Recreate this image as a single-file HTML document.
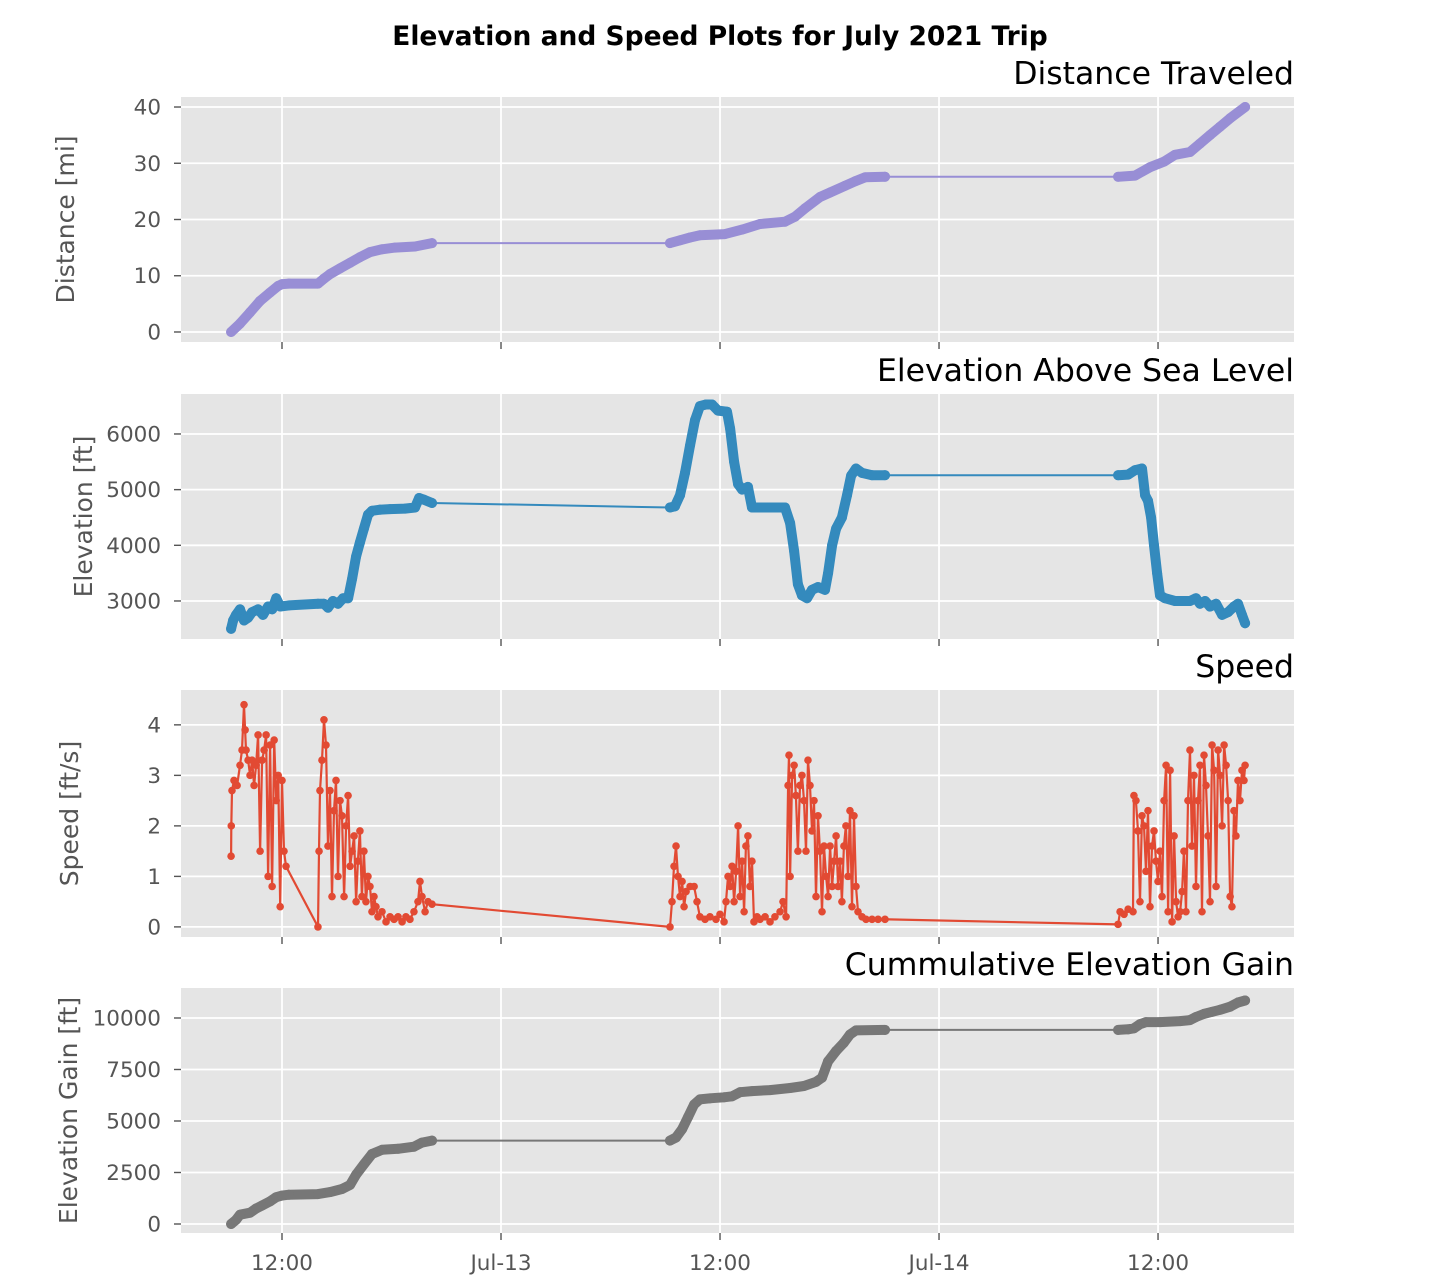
<!DOCTYPE html>
<html><head><meta charset="utf-8">
<style>
html,body{margin:0;padding:0;background:#fff;}
svg{display:block;font-family:"DejaVu Sans","Liberation Sans",sans-serif;}
</style></head>
<body>
<svg id="chart" width="1440" height="1280" viewBox="0 0 1440 1280">
<text x="720" y="45" text-anchor="middle" font-size="26.5" font-weight="bold" fill="#000">Elevation and Speed Plots for July 2021 Trip</text>
</svg>
<script>
// time in hours since Jul-12 00:00
const distT = [9.21,9.70,10.25,10.79,11.34,11.79,12.00,12.38, 13.97,14.30,14.63,15.18,15.73,16.27,16.82,17.48,18.19,19.29,20.22, 33.26,33.81,34.36,34.90,36.27,37.21,38.19,39.56,40.11,40.66,41.48,42.03,42.85,43.40,43.95,45.04, 57.81,58.74,59.56,60.33,60.93,61.75,62.30,62.85,63.40,63.95,64.77];
const distV = [0,1.5,3.5,5.5,7,8.2,8.5,8.6, 8.6,9.5,10.3,11.3,12.3,13.3,14.2,14.7,15.0,15.2,15.8, 15.8,16.3,16.8,17.2,17.4,18.2,19.2,19.6,20.5,22.0,24.0,24.8,26.0,26.8,27.5,27.6, 27.6,27.8,29.3,30.3,31.5,32.0,33.5,35.0,36.5,38.0,40];

const elevT = [9.21,9.32,9.48,9.70,9.92,10.14,10.36,10.69,10.96,11.24,11.46,11.68,11.90,12.38, 13.97,14.30,14.52,14.79,15.07,15.35,15.62,15.84,16.06,16.27,16.49,16.71,16.93,17.37,17.92,18.74,19.29,19.51,19.78,20.22, 33.26,33.53,33.81,34.08,34.36,34.63,34.90,35.23,35.56,35.89,36.38,36.55,36.77,36.99,37.21,37.53,37.75,38.19,38.74,39.56,39.84,40.06,40.27,40.49,40.77,41.04,41.37,41.75,41.92,42.14,42.36,42.68,42.96,43.18,43.45,43.78,44.33,45.04, 57.81,58.36,58.74,59.12,59.29,59.45,59.62,59.78,59.95,60.11,60.38,60.93,61.75,62.08,62.30,62.58,62.85,63.18,63.51,63.84,64.16,64.38,64.60,64.77];
const elevV = [2500,2650,2750,2850,2650,2700,2800,2850,2750,2900,2850,3050,2900,2920, 2950,2950,2880,3000,2950,3050,3050,3400,3800,4050,4300,4550,4620,4640,4650,4660,4680,4850,4820,4760, 4680,4700,4900,5300,5800,6250,6500,6530,6530,6420,6400,6100,5500,5100,5000,5050,4680,4680,4680,4680,4400,3900,3300,3100,3050,3200,3250,3200,3500,4000,4300,4500,4900,5250,5380,5300,5260,5260, 5260,5270,5350,5380,4900,4800,4500,4000,3500,3100,3050,3000,3000,3050,2950,3000,2900,2950,2750,2800,2900,2950,2750,2600];

const speedT = [9.21,9.22,9.26,9.37,9.54,9.70,9.81,9.92,9.98,10.03,10.14,10.25,10.36,10.47,10.58,10.69,10.80,10.91,11.02,11.13,11.24,11.35,11.46,11.57,11.68,11.79,11.90,12.00,12.11,12.22,
 13.97,14.03,14.08,14.19,14.30,14.41,14.52,14.63,14.74,14.85,14.96,15.07,15.18,15.29,15.40,15.51,15.62,15.73,15.84,15.95,16.06,16.16,16.27,16.38,16.49,16.60,16.71,16.82,16.93,17.04,17.15,17.26,17.48,17.70,17.92,18.14,18.36,18.58,18.79,19.01,19.23,19.45,19.56,19.67,19.84,20.00,20.22,
 33.26,33.37,33.48,33.59,33.70,33.81,33.92,34.03,34.14,34.36,34.58,34.74,34.90,35.18,35.45,35.78,36.00,36.22,36.33,36.44,36.55,36.66,36.77,36.88,36.99,37.10,37.21,37.32,37.42,37.53,37.64,37.75,37.86,38.03,38.19,38.47,38.74,39.01,39.29,39.45,39.62,39.73,39.78,39.84,39.95,40.06,40.16,40.27,40.38,40.49,40.60,40.71,40.82,40.93,41.04,41.15,41.26,41.37,41.48,41.59,41.70,41.81,41.92,42.03,42.14,42.25,42.36,42.47,42.58,42.68,42.79,42.90,43.01,43.12,43.23,43.34,43.45,43.56,43.78,44.00,44.33,44.66,45.04,
 57.81,57.92,58.14,58.36,58.63,58.68,58.79,58.90,59.01,59.12,59.23,59.34,59.45,59.56,59.67,59.78,59.89,60.00,60.11,60.22,60.33,60.44,60.55,60.66,60.77,60.88,60.99,61.10,61.21,61.32,61.42,61.53,61.64,61.75,61.86,61.97,62.08,62.19,62.30,62.41,62.52,62.63,62.74,62.85,62.96,63.07,63.18,63.29,63.40,63.51,63.62,63.73,63.84,63.95,64.05,64.16,64.27,64.38,64.49,64.60,64.71,64.77];
const speedV = [1.4,2.0,2.7,2.9,2.8,3.2,3.5,4.4,3.9,3.5,3.3,3.0,3.3,2.8,3.2,3.8,1.5,3.3,3.5,3.8,1.0,3.6,0.8,3.7,2.5,3.0,0.4,2.9,1.5,1.2,
 0.0,1.5,2.7,3.3,4.1,3.6,1.6,2.7,0.6,2.3,2.9,1.0,2.5,2.2,0.6,2.0,2.6,1.2,1.5,1.8,0.5,1.3,1.9,0.6,1.5,0.5,1.0,0.8,0.3,0.6,0.4,0.2,0.3,0.1,0.2,0.15,0.2,0.1,0.2,0.15,0.3,0.5,0.9,0.6,0.3,0.5,0.45,
 0.0,0.5,1.2,1.6,1.0,0.6,0.9,0.4,0.7,0.8,0.8,0.5,0.2,0.15,0.2,0.15,0.25,0.1,0.5,1.0,0.8,1.2,0.5,1.1,2.0,0.6,1.3,0.3,1.6,1.8,0.8,1.3,0.1,0.2,0.15,0.2,0.1,0.2,0.3,0.5,0.2,2.8,3.4,1.0,3.0,3.2,2.6,1.5,2.8,3.0,2.5,1.5,3.3,2.8,1.9,2.5,0.6,2.2,1.5,0.3,1.6,1.0,0.6,1.6,0.8,1.3,1.8,0.8,1.3,0.5,1.6,2.0,1.0,2.3,0.4,2.2,0.8,0.3,0.2,0.15,0.15,0.15,0.15,
 0.05,0.3,0.25,0.35,0.3,2.6,2.5,1.9,0.5,2.2,2.0,1.1,2.3,0.4,1.6,1.9,1.3,0.9,1.5,0.6,2.5,3.2,0.3,3.1,0.1,1.8,0.5,0.2,0.3,0.7,1.5,0.3,2.5,3.5,1.6,3.0,0.8,2.5,3.2,0.3,3.4,2.8,1.8,0.5,3.6,3.1,0.8,3.5,3.0,2.0,3.6,3.2,2.5,0.6,0.4,2.3,1.8,2.9,2.5,3.1,2.9,3.2];

const gainT = [9.21,9.48,9.70,10.25,10.58,10.91,11.35,11.68,12.00,12.38, 13.97,14.63,15.29,15.73,16.06,16.49,16.93,17.48,18.36,19.23,19.67,20.22, 33.26,33.59,33.92,34.25,34.58,34.90,35.45,36.22,36.66,37.10,37.75,38.74,39.84,40.60,41.26,41.59,41.92,42.36,42.79,43.12,43.45,45.04, 57.81,58.36,58.68,59.01,59.34,60.11,61.21,61.75,62.08,62.52,62.96,63.40,63.95,64.38,64.77];
const gainV = [0,200,450,550,750,900,1100,1300,1380,1420, 1450,1550,1700,1900,2400,2900,3400,3600,3650,3750,3950,4050, 4050,4200,4600,5200,5800,6050,6100,6150,6200,6400,6450,6500,6600,6700,6900,7100,7900,8400,8800,9200,9400,9420, 9420,9450,9500,9700,9800,9800,9850,9900,10050,10200,10300,10400,10550,10750,10850];

const distTicks = [0,10,20,30,40];
const elevTicks = [3000,4000,5000,6000];
const speedTicks = [0,1,2,3,4];
const gainTicks = [0,2500,5000,7500,10000];
const xTickHours = [12,24,36,48,60];
const xTickLabels = ["12:00","Jul-13","12:00","Jul-14","12:00"];

const NS = "http://www.w3.org/2000/svg";
const svg = document.getElementById('chart');
const X0 = 181, X1 = 1294, TMIN = 6.466, TMAX = 67.45;
function xs(t){ return X0 + (t - TMIN) / (TMAX - TMIN) * (X1 - X0); }
function mk(tag, attrs, parent){
  const e = document.createElementNS(NS, tag);
  for (const k in attrs) e.setAttribute(k, attrs[k]);
  (parent || svg).appendChild(e);
  return e;
}

function panel(cfg){
  const g = mk('g', {});
  
  
  const ys = v => cfg.y1 - (v - cfg.vmin) / (cfg.vmax - cfg.vmin) * (cfg.y1 - cfg.y0);
  const bg = mk('rect', {x:X0, y:cfg.y0, width:X1-X0, height:cfg.y1-cfg.y0, fill:'#E5E5E5'}, g);
  
  
  xTickHours.forEach(h => {
    const x = xs(h);
    mk('line', {x1:x, x2:x, y1:cfg.y0, y2:cfg.y1, stroke:'#fff', 'stroke-width':1.8}, g);
    mk('line', {x1:x, x2:x, y1:cfg.y1, y2:cfg.y1+7, stroke:'#555', 'stroke-width':1.4}, g);
  });
  cfg.ticks.forEach(v => {
    const y = ys(v);
    mk('line', {x1:X0, x2:X1, y1:y, y2:y, stroke:'#fff', 'stroke-width':1.8}, g);
    mk('line', {x1:X0-7, x2:X0, y1:y, y2:y, stroke:'#555', 'stroke-width':1.4}, g);
    const tl = mk('text', {x:X0-20, y:y+7.5, 'text-anchor':'end', 'font-size':21.5, fill:'#555'}, g);
    tl.textContent = String(v);
    
    
  });
  const cy = (cfg.y0 + cfg.y1) / 2;
  const yt = mk('text', {x:cfg.titleX, y:cy, 'text-anchor':'middle', 'font-size':25, fill:'#555', transform:`rotate(-90 ${cfg.titleX} ${cy})`}, g);
  yt.textContent = cfg.ylabel;
  
  
  const ti = mk('text', {x:X1, y:cfg.y0-13, 'text-anchor':'end', 'font-size':31.5, fill:'#000'}, g);
  ti.textContent = cfg.title;
  
  
  const T = cfg.t, V = cfg.v;
  const pts = T.map((t,i) => xs(t).toFixed(1) + ',' + ys(V[i]).toFixed(1));
  const line = mk('polyline', {points:pts.join(' '), fill:'none', stroke:cfg.color, 'stroke-width':cfg.lw}, g);
  
  
  if (cfg.thick) {
    let seg = [pts[0]];
    const flush = () => {
      if (seg.length > 1) {
        const pl = mk('polyline', {points:seg.join(' '), fill:'none', stroke:cfg.color, 'stroke-width':cfg.r*2, 'stroke-linejoin':'round', 'stroke-linecap':'round'}, g);
        
        
      }
    };
    for (let i = 1; i < T.length; i++) {
      if (T[i] - T[i-1] > 2) { flush(); seg = []; }
      seg.push(pts[i]);
    }
    flush();
  }
  T.forEach((t,i) => {
    const c = mk('circle', {cx:xs(t), cy:ys(V[i]), r:cfg.r, fill:cfg.color}, g);
    
    
  });
  return g;
}

panel({name:'distance', y0:97, y1:342, vmin:-1.78, vmax:41.78, ticks:distTicks, t:distT, v:distV, color:'#988ED5', r:5, lw:2, thick:true, ylabel:'Distance [mi]', titleX:74, title:'Distance Traveled'});
panel({name:'elevation', y0:394, y1:639, vmin:2317, vmax:6718, ticks:elevTicks, t:elevT, v:elevV, color:'#348ABD', r:5, lw:2, thick:true, ylabel:'Elevation [ft]', titleX:92, title:'Elevation Above Sea Level'});
panel({name:'speed', y0:690, y1:937, vmin:-0.2, vmax:4.69, ticks:speedTicks, t:speedT, v:speedV, color:'#E24A33', r:3.8, lw:2.2, thick:false, ylabel:'Speed [ft/s]', titleX:78, title:'Speed'});
panel({name:'gain', y0:988, y1:1233, vmin:-437, vmax:11456, ticks:gainTicks, t:gainT, v:gainV, color:'#777777', r:5, lw:2, thick:true, ylabel:'Elevation Gain [ft]', titleX:77, title:'Cummulative Elevation Gain'});

xTickHours.forEach((h,i) => {
  const tl = mk('text', {x:xs(h), y:1270, 'text-anchor':'middle', 'font-size':21.5, fill:'#555'});
  tl.textContent = xTickLabels[i];
  
  
});
</script>
</body></html>
